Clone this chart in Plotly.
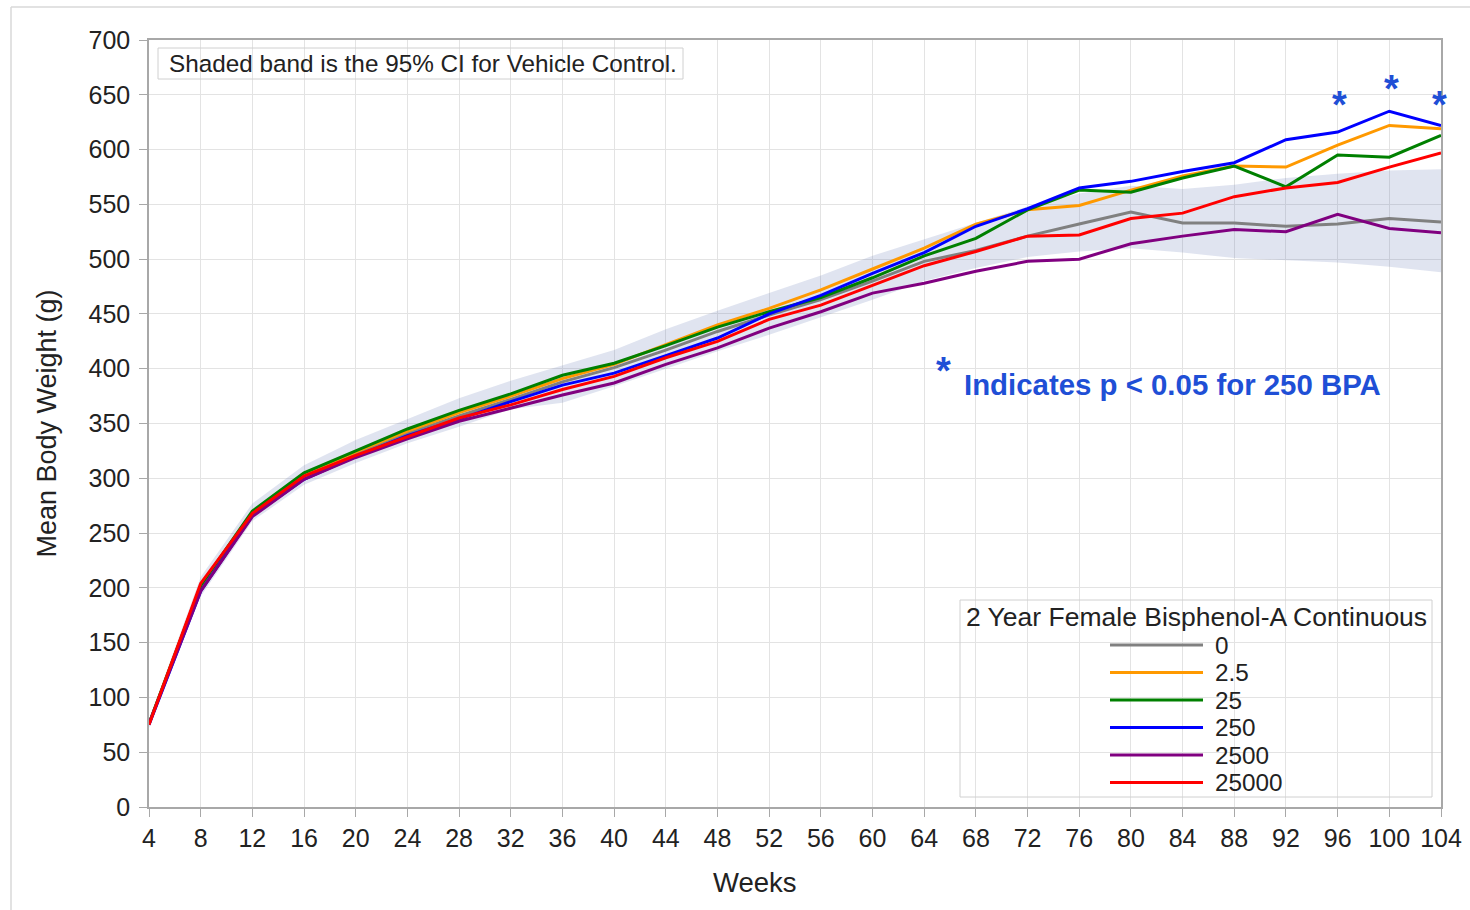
import plotly.graph_objects as go

# ---------------- data ----------------
weeks = list(range(4, 105, 4))
dose_labels = ["0", "2.5", "25", "250", "2500", "25000"]

w_0 = [76, 201, 268, 302, 322, 341, 357, 372, 388, 401, 417, 434, 449, 463, 480, 498,
       508, 521, 532, 543, 533, 533, 530, 532, 537, 534]
w_2_5 = [76, 202, 269, 304, 324, 343, 360, 375, 391, 404, 422, 440, 455, 472, 491, 510,
         532, 545, 549, 563, 576, 585, 584, 604, 622, 619]
w_25 = [76, 202, 270, 305, 325, 345, 362, 377, 394, 405, 421, 438, 452, 465, 483, 503,
        519, 545, 563, 561, 574, 585, 566, 595, 593, 613]
w_250 = [75, 197, 266, 299, 320, 339, 354, 370, 385, 396, 412, 428, 450, 467, 487, 506,
         530, 546, 565, 571, 580, 588, 609, 616, 635, 622]
w_2500 = [76, 197, 265, 299, 319, 336, 352, 364, 376, 387, 404, 419, 437, 452, 469, 478,
          489, 498, 500, 514, 521, 527, 525, 541, 528, 524]
w_25000 = [75, 204, 268, 302, 321, 338, 355, 367, 381, 393, 410, 425, 445, 458, 476, 494,
           507, 521, 522, 537, 542, 557, 565, 570, 584, 597]

ci_lower = [72, 192, 261, 294, 314, 332, 347, 363, 369, 384, 400, 416, 431, 447, 463, 480,
            492, 502, 507, 510, 506, 501, 499, 497, 493, 488]
ci_upper = [80, 210, 277, 312, 335, 354, 373, 389, 403, 417, 436, 453, 469, 485, 503, 518,
            533, 548, 560, 567, 564, 568, 574, 578, 581, 582]

star_weeks = [96, 100, 104]
star_y = [645, 660, 645]

series = [w_0, w_2_5, w_25, w_250, w_2500, w_25000]
colors = ["#808080", "#ff9900", "#008000", "#0000ff", "#800080", "#ff0000"]

x_ticks = list(range(4, 105, 4))
y_ticks = list(range(0, 701, 50))

FONT = "Arial, 'Liberation Sans', sans-serif"
BLUE_TXT = "#1f4fd6"
TXT = "#222222"

# plot-area pixel geometry (for placing decorations in paper coordinates)
PL, PR, PT, PB = 149, 1441, 40, 807


def px_x(px):
    return (px - PL) / (PR - PL)


def px_y(py):
    return (PB - py) / (PB - PT)


fig = go.Figure()

# 95% CI band for vehicle control
fig.add_trace(go.Scatter(x=weeks, y=ci_lower, mode="lines", line=dict(width=0),
                         showlegend=False, hoverinfo="skip"))
fig.add_trace(go.Scatter(x=weeks, y=ci_upper, mode="lines", line=dict(width=0),
                         fill="tonexty", fillcolor="rgba(100,120,180,0.2)",
                         showlegend=False, hoverinfo="skip"))

for name, vals, col in zip(dose_labels, series, colors):
    fig.add_trace(go.Scatter(x=weeks, y=vals, mode="lines", name=name,
                             line=dict(color=col, width=3), showlegend=False))

annotations = []
for sx, sy in zip(star_weeks, star_y):
    annotations.append(dict(x=sx, y=sy, xref="x", yref="y", text="<b>*</b>",
                            showarrow=False, font=dict(size=38, color=BLUE_TXT, family=FONT),
                            xanchor="center", yanchor="middle", yshift=-5,
                            xshift=-2 if sx == 104 else 2))

annotations += [
    dict(x=px_x(167), y=px_y(63.5), xref="paper", yref="paper", xanchor="left",
         yanchor="middle", text="Shaded band is the 95% CI for Vehicle Control.",
         showarrow=False, font=dict(size=24.3, color=TXT, family=FONT)),
    dict(x=px_x(943), y=px_y(371), xref="paper", yref="paper", xanchor="center",
         yanchor="middle", text="<b>*</b>", showarrow=False,
         font=dict(size=38, color=BLUE_TXT, family=FONT)),
    dict(x=px_x(962), y=px_y(384), xref="paper", yref="paper", xanchor="left",
         yanchor="middle", text="<b>Indicates p < 0.05 for 250 BPA</b>", showarrow=False,
         font=dict(size=29.4, color=BLUE_TXT, family=FONT)),
    dict(x=px_x(1196), y=px_y(617), xref="paper", yref="paper", xanchor="center",
         yanchor="middle", text="2 Year Female Bisphenol-A Continuous", showarrow=False,
         font=dict(size=26.5, color=TXT, family=FONT)),
    # x-axis title (sits left of the plot centre in the reference)
    dict(x=px_x(755), y=px_y(882), xref="paper", yref="paper", xanchor="center",
         yanchor="middle", text="Weeks", showarrow=False,
         font=dict(size=27.5, color=TXT, family=FONT)),
]

shapes = [
    # note box
    dict(type="rect", xref="paper", yref="paper", x0=px_x(158), x1=px_x(683),
         y0=px_y(79), y1=px_y(48),
         line=dict(color="#d0d0d0", width=1), fillcolor="rgba(0,0,0,0)", layer="above"),
    # legend frame
    dict(type="rect", xref="paper", yref="paper", x0=px_x(960), x1=px_x(1432),
         y0=px_y(797), y1=px_y(600),
         line=dict(color="#d0d0d0", width=1), fillcolor="rgba(0,0,0,0)", layer="above"),
    # outer image frame
    dict(type="line", xref="paper", yref="paper", x0=px_x(11), x1=px_x(1480),
         y0=px_y(7), y1=px_y(7), line=dict(color="#d8d8d8", width=1.5)),
    dict(type="line", xref="paper", yref="paper", x0=px_x(11), x1=px_x(11),
         y0=px_y(7), y1=px_y(920), line=dict(color="#d8d8d8", width=1.5)),
]

# legend entries (drawn as shapes + text to match the long line samples)
for i, (name, col) in enumerate(zip(dose_labels, colors)):
    ly = 645 + i * 27.5
    shapes.append(dict(type="line", xref="paper", yref="paper",
                       x0=px_x(1110), x1=px_x(1203), y0=px_y(ly), y1=px_y(ly),
                       line=dict(color=col, width=3)))
    annotations.append(dict(x=px_x(1213), y=px_y(ly), xref="paper", yref="paper",
                            xanchor="left", yanchor="middle", text=name, showarrow=False,
                            font=dict(size=24.3, color=TXT, family=FONT)))

fig.update_layout(
    width=1470, height=910,
    margin=dict(l=PL, r=1470 - PR, t=PT, b=910 - PB, autoexpand=False),
    paper_bgcolor="white", plot_bgcolor="white",
    font=dict(family=FONT, size=24, color=TXT),
    showlegend=False,
    annotations=annotations,
    shapes=shapes,
)

fig.update_xaxes(range=[4, 104], tickvals=x_ticks, ticktext=[str(t) for t in x_ticks],
                 showgrid=True, gridcolor="#e3e3e3", gridwidth=1,
                 showline=True, linecolor="#a8a8a8", linewidth=1.5, mirror=True,
                 ticks="outside", ticklen=8, tickcolor="#a8a8a8",
                 tickfont=dict(size=25, family=FONT, color=TXT),
                 zeroline=False)
fig.update_yaxes(range=[0, 700], tickvals=y_ticks, ticktext=[str(t) for t in y_ticks],
                 showgrid=True, gridcolor="#e3e3e3", gridwidth=1,
                 showline=True, linecolor="#a8a8a8", linewidth=1.5, mirror=True,
                 ticks="outside", ticklen=8, tickcolor="#a8a8a8", ticklabelstandoff=4,
                 tickfont=dict(size=25, family=FONT, color=TXT),
                 title=dict(text="Mean Body Weight (g)",
                            font=dict(size=27, family=FONT, color=TXT), standoff=24),
                 zeroline=False)

fig.write_html("out.html")
